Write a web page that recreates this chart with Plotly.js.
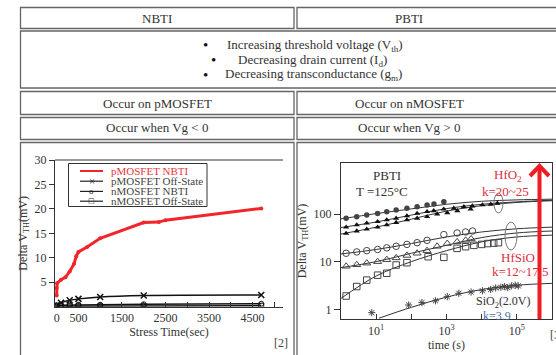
<!DOCTYPE html>
<html><head><meta charset="utf-8">
<script src="https://cdn.plot.ly/plotly-3.0.1.min.js"></script>
<style>html,body{margin:0;padding:0;background:#fff}#c{width:556px;height:355px}</style>
</head><body><div id="c"></div>
<script>
// ---------- Left chart (NBTI) data ----------
const nbtiTime = [0, 0, 10, 100, 200, 300, 400, 450, 500, 700, 1000, 2000, 2350, 2500, 4700];
const pNBTI = [2.3, 3.8, 4.8, 5.5, 6, 7.2, 8.8, 10.3, 11.2, 12.2, 14, 17.2, 17.3, 17.7, 20.1];
const offTime = [0, 100, 300, 500, 1000, 2000, 4700];
const pOff = [0.3, 0.8, 1.3, 1.6, 2.0, 2.3, 2.4];
const nNBTI = [0.3, 0.3, 0.4, 0.4, 0.4, 0.5, 0.6];
const nOff = [0.1, 0.1, 0.1, 0.1, 0.1, 0.1, 0.2];
const nbtiXTicks = [0, 500, 1500, 2500, 3500, 4500];
const nbtiYTicks = [5, 10, 15, 20, 25, 30];
const nbtiLegend = ['pMOSFET NBTI', 'pMOSFET Off-State', 'nMOSFET NBTI', 'nMOSFET Off-State'];

// ---------- Right chart (PBTI) data ----------
const hfo2CircT = [1.4, 2.8, 5.4, 11, 20, 37, 75, 146, 280, 440, 840];
const hfo2CircV = [81, 88, 95, 103, 112, 121, 132, 142, 155, 162, 181];
const hfo2TriUT = [1.4, 2.8, 5.4, 11, 20, 37, 75, 146, 280, 434, 837, 1617, 3120, 5430, 10500, 18200, 28000];
const hfo2TriUV = [53, 59, 64, 69, 75, 81, 91, 103, 112, 117, 126, 132, 142, 147, 155, 160, 168];
const hfo2TriLT = [1.4, 2.8, 5.4, 11, 20, 37, 75, 146, 281, 543, 1050, 2030, 4850];
const hfo2TriLV = [39, 44, 48, 53, 59, 66, 75, 81, 88, 100, 106, 117, 126];
const hfsioCircT = [1.4, 2.8, 5.4, 11, 20, 37, 75, 146, 280, 840, 2000, 3500, 5500];
const hfsioCircV = [15, 16, 17, 18, 19.5, 21, 23, 25, 28, 37, 40, 42, 44];
const hfsioTriT = [1.4, 2.8, 5.4, 11, 20, 37, 75, 146, 280, 540, 1050, 2000, 3500, 5000];
const hfsioTriV = [8, 8.6, 9.3, 10, 11, 12, 13.5, 15, 17, 21, 24, 26, 28, 30];
const hfsioSqT = [1.4, 2.8, 5.4, 11, 20, 37, 75, 300, 840, 2000, 3500, 6000, 10000, 15000, 22000, 30000];
const hfsioSqV = [1.9, 3.0, 4.1, 5.2, 5.7, 8.5, 9.5, 12.7, 12.3, 19, 20.6, 22, 23, 24, 24.5, 25];
const sio2T = [7.5, 84, 200, 485, 1050, 2240, 5000, 10500, 18000, 25000, 35000, 45000, 55000, 70000, 90000, 110000];
const sio2V = [0.85, 1.23, 1.38, 1.51, 1.84, 2.17, 2.3, 2.45, 2.6, 2.8, 2.9, 3.0, 2.85, 3.1, 3.2, 3.1];
const fitT = [1, 10, 100, 1000, 10000, 100000, 1000000];
const fitHfo2Circ = [79, 102, 128, 160, 185, 198, 205];
const fitHfo2TriU = [52, 68, 95, 130, 160, 180, 195];
const fitHfo2TriL = [38, 53, 78, 115, 150, 175, 190];
const fitHfsioCirc = [14.5, 18, 24, 33, 42, 49, 53];
const fitHfsioTri = [7.5, 10, 15, 22, 32, 40, 44];
const fitHfsioSq = [1.7, 5, 10, 17, 26, 33, 36];
const fitSio2T = [12, 100, 1000, 10000, 100000, 1000000];
const fitSio2 = [0.65, 1.1, 1.8, 2.6, 3.2, 3.5];
const pbtiXTicks = [10, 1000, 100000];
const pbtiXLabels = ['10<sup>1</sup>', '10<sup>3</sup>', '10<sup>5</sup>'];
const pbtiYTicks = [1, 10, 100];

// ---------- helpers for layout positions (pixels -> paper) ----------
const W = 556, H = 355;
const px = x => x / W, py = y => 1 - y / H;
const SERIF = 'Liberation Serif, Times New Roman, serif';
const GREY = '#444';
const RED = '#f2252b';

const traces = [
  {x: nbtiTime, y: pNBTI, name: nbtiLegend[0], mode: 'lines+markers', xaxis: 'x', yaxis: 'y',
   line: {color: RED, width: 3}, marker: {color: RED, size: 4}},
  {x: offTime, y: pOff, name: nbtiLegend[1], mode: 'lines+markers', xaxis: 'x', yaxis: 'y',
   line: {color: '#111', width: 1.5, shape: 'spline'}, marker: {symbol: 'x-thin-open', color: '#111', size: 6, line: {width: 1.5, color: '#111'}}},
  {x: offTime, y: nNBTI, name: nbtiLegend[2], mode: 'lines+markers', xaxis: 'x', yaxis: 'y',
   line: {color: '#111', width: 1.5}, marker: {symbol: 'circle-open', color: '#111', size: 5}},
  {x: offTime, y: nOff, name: nbtiLegend[3], mode: 'lines+markers', xaxis: 'x', yaxis: 'y',
   line: {color: '#111', width: 1.5}, marker: {symbol: 'square-open', color: '#111', size: 5}},
  ...[[fitT, fitHfo2Circ], [fitT, fitHfo2TriU], [fitT, fitHfo2TriL], [fitT, fitHfsioCirc], [fitT, fitHfsioTri], [fitT, fitHfsioSq], [fitSio2T, fitSio2]].map(p => ({
    x: p[0], y: p[1], mode: 'lines', xaxis: 'x2', yaxis: 'y2',
    line: {color: '#333', width: 1, shape: 'spline'}, hoverinfo: 'skip'})),
  {x: hfo2CircT, y: hfo2CircV, mode: 'markers', xaxis: 'x2', yaxis: 'y2', marker: {symbol: 'circle', size: 5.5, color: GREY}},
  {x: hfo2TriUT, y: hfo2TriUV, mode: 'markers', xaxis: 'x2', yaxis: 'y2', marker: {symbol: 'triangle-up', size: 5.5, color: '#111'}},
  {x: hfo2TriLT, y: hfo2TriLV, mode: 'markers', xaxis: 'x2', yaxis: 'y2', marker: {symbol: 'triangle-up', size: 5.5, color: '#111'}},
  {x: hfsioCircT, y: hfsioCircV, mode: 'markers', xaxis: 'x2', yaxis: 'y2', marker: {symbol: 'circle-open', size: 6.5, color: GREY}},
  {x: hfsioTriT, y: hfsioTriV, mode: 'markers', xaxis: 'x2', yaxis: 'y2', marker: {symbol: 'triangle-up-open', size: 7, color: GREY}},
  {x: hfsioSqT, y: hfsioSqV, mode: 'markers', xaxis: 'x2', yaxis: 'y2', marker: {symbol: 'square-open', size: 6.5, color: GREY}},
  {x: sio2T, y: sio2V, mode: 'markers', xaxis: 'x2', yaxis: 'y2', marker: {symbol: 'asterisk-open', size: 6, color: GREY, line: {width: 1, color: GREY}}}
];

// table cell rectangles (pixels)
const cells = [
  [20.5, 7.5, 294, 28.5], [297, 7.5, 600, 28.5],
  [20.5, 31, 600, 88],
  [20.5, 91.5, 294, 114.5], [297, 91.5, 600, 114.5],
  [20.5, 117.5, 294, 139.5], [297, 117.5, 600, 139.5],
  [20.5, 142.5, 294, 400], [297, 142.5, 600, 400]
];
const shapes = cells.map(c => ({type: 'rect', xref: 'paper', yref: 'paper', x0: px(c[0]), y0: py(c[1]), x1: px(c[2]), y1: py(c[3]),
  line: {color: '#666', width: 1.3}, fillcolor: 'rgba(0,0,0,0)', layer: 'below'}));
shapes.push({type: 'line', xref: 'x domain', yref: 'y domain', x0: 0, x1: 1, y0: 1, y1: 1, line: {color: '#333', width: 1}});
// red arrow
shapes.push({type: 'line', xref: 'paper', yref: 'paper', x0: px(539.5), x1: px(539.5), y0: py(319), y1: py(168), line: {color: '#f01c24', width: 4}});
shapes.push({type: 'path', xref: 'paper', yref: 'paper',
  path: `M ${px(530)} ${py(176)} L ${px(539.5)} ${py(166)} L ${px(549)} ${py(176)}`, line: {color: '#f01c24', width: 4}});
// ellipses
shapes.push({type: 'circle', xref: 'paper', yref: 'paper', x0: px(494), x1: px(503), y0: py(193), y1: py(213), line: {color: '#777', width: 1}});
shapes.push({type: 'circle', xref: 'paper', yref: 'paper', x0: px(505), x1: px(517), y0: py(222), y1: py(250), line: {color: '#777', width: 1}});
// manual legend box + samples
shapes.push({type: 'rect', xref: 'paper', yref: 'paper', x0: px(68.5), x1: px(207), y0: py(163.5), y1: py(206.5), line: {color: '#333', width: 1}, fillcolor: '#fff'});
const legY = [171, 181.2, 191.4, 201.2];
legY.forEach((y, i) => shapes.push({type: 'line', xref: 'paper', yref: 'paper', x0: px(80), x1: px(103), y0: py(y), y1: py(y),
  line: {color: i === 0 ? RED : '#222', width: i === 0 ? 2 : 1.2}}));

const ann = (x, y, text, opts = {}) => Object.assign({xref: 'paper', yref: 'paper', x: px(x), y: py(y), text, showarrow: false,
  font: {family: SERIF, size: 13, color: '#333'}, xanchor: 'center', yanchor: 'middle'}, opts);
const bullet = {font: {family: SERIF, size: 15, color: '#111'}};
const annotations = [
  ann(157, 18, 'NBTI'), ann(409, 18, 'PBTI'),
  ann(205, 45, '•', bullet), ann(225, 45, 'Increasing threshold voltage (V<sub>th</sub>)', {xanchor: 'left'}),
  ann(213, 60, '•', bullet), ann(236, 60, 'Decreasing drain current (I<sub>d</sub>)', {xanchor: 'left'}),
  ann(205, 75, '•', bullet), ann(223, 75, 'Decreasing transconductance (g<sub>m</sub>)', {xanchor: 'left'}),
  ann(157, 103, 'Occur on pMOSFET'), ann(409, 103, 'Occur on nMOSFET'),
  ann(157, 128, 'Occur when Vg &lt; 0'), ann(409, 128, 'Occur when Vg &gt; 0'),
  ann(281, 343, '[2]', {font: {family: SERIF, size: 12, color: '#444'}}),
  ann(548, 335, '[3', {xanchor: 'left', font: {family: SERIF, size: 12, color: '#444'}}),
  ann(387, 175, 'PBTI'),
  ann(382, 192, 'T =125°C'),
  ann(508, 175, 'HfO<sub>2</sub>', {font: {family: SERIF, size: 13, color: '#d8303e'}}),
  ann(505, 192, 'k=20~25', {font: {family: SERIF, size: 13, color: '#d8303e'}}),
  ann(518, 257, 'HfSiO', {font: {family: SERIF, size: 13, color: '#d8303e'}}),
  ann(520, 271, 'k=12~17.5', {font: {family: SERIF, size: 13, color: '#d8303e'}}),
  ann(503, 302, 'SiO<sub>2</sub>(2.0V)', {font: {family: SERIF, size: 12, color: '#333'}}),
  ann(497, 316, 'k=3.9', {font: {family: SERIF, size: 12, color: '#4a6ea8'}}),
  // legend texts and sample glyphs
  ...nbtiLegend.map((t, i) => ann(109, legY[i], t, {xanchor: 'left', font: {family: SERIF, size: 11, color: i === 0 ? '#e8383d' : '#444'}})),
  ann(91.5, legY[0], '•', {font: {family: SERIF, size: 9, color: RED}}),
  ann(91.5, legY[1], '×', {font: {family: SERIF, size: 11, color: '#222'}}),
  ann(91.5, legY[2], 'o', {font: {family: SERIF, size: 9, color: '#222'}}),
  ann(91.5, legY[3], '□', {font: {family: 'DejaVu Sans', size: 7, color: '#222'}})
];

const axFont = {family: SERIF, size: 12, color: '#333'};
const layout = {
  width: W, height: H, margin: {l: 0, r: 0, t: 0, b: 0}, paper_bgcolor: '#fff', plot_bgcolor: '#fff',
  showlegend: false,
  xaxis: {domain: [px(55), px(283)], range: [-38, 5200], showgrid: false, zeroline: false, showline: true, linecolor: '#333',
    tickmode: 'array', tickvals: nbtiXTicks, ticks: 'inside', ticklen: 5, tickcolor: '#333', tickfont: axFont,
    minor: {dtick: 500, tick0: 0, ticks: 'inside', ticklen: 5, tickcolor: '#333', showgrid: false},
    title: {text: 'Stress Time(sec)', font: axFont, standoff: 2}},
  yaxis: {domain: [py(306.7), py(160)], range: [0, 30], showgrid: false, zeroline: false, showline: true, linecolor: '#333',
    tickmode: 'array', tickvals: nbtiYTicks, ticks: 'outside', ticklen: 5, tickcolor: '#333', tickfont: axFont,
    title: {text: 'Delta V<sub>TH</sub>(mV)', font: axFont, standoff: 4}},
  xaxis2: {domain: [px(341), px(552)], type: 'log', range: [0, 6], anchor: 'y2', showgrid: false, zeroline: false, showline: true, mirror: true,
    linecolor: '#333', tickmode: 'array', tickvals: pbtiXTicks, ticktext: pbtiXLabels, ticks: 'inside', ticklen: 5, tickcolor: '#333', tickfont: axFont,
    minor: {dtick: 1, ticks: 'inside', ticklen: 5, tickcolor: '#333', showgrid: false},
    title: {text: 'time (s)', font: axFont, standoff: 2}},
  yaxis2: {domain: [py(319.3), py(162.7)], type: 'log', range: [-0.21, 3.077], anchor: 'x2', showgrid: false, zeroline: false, showline: true, mirror: true,
    linecolor: '#333', tickmode: 'array', tickvals: pbtiYTicks, ticktext: ['1', '10', '100'], ticks: 'outside', ticklen: 6, tickcolor: '#333', tickfont: axFont,
    title: {text: 'Delta V<sub>TH</sub>(mV)', font: axFont, standoff: 4}},
  shapes, annotations
};
Plotly.newPlot('c', traces, layout, {staticPlot: true, displayModeBar: false});
</script></body></html>
